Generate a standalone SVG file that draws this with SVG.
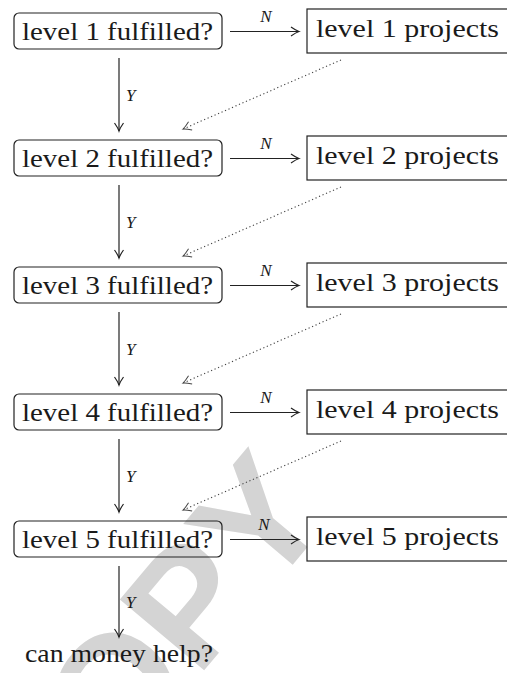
<svg xmlns="http://www.w3.org/2000/svg" width="507" height="673" viewBox="0 0 507 673">
<style>
.bg{fill:#ffffff}
.wm{font-weight:bold;font-size:160px;fill:#d4d4d4}
.q{fill:none;stroke:#222;stroke-width:1.2}
.p{fill:none;stroke:#222;stroke-width:1.2}
.t{font-size:25px;fill:#1a1a1a}
.lab{font-style:italic;font-size:17px;fill:#1a1a1a}
.ar{stroke:#222;stroke-width:1.2;fill:none}
.dot{stroke:#444;stroke-width:1.1;fill:none;stroke-dasharray:1.2 2.6}
</style>
<defs>
<marker id="arr" viewBox="-10 -6 12 12" refX="0" refY="0" markerWidth="12" markerHeight="12" markerUnits="userSpaceOnUse" orient="auto">
<path d="M-8,-4.5 Q-3,-1 0,0 Q-3,1 -8,4.5" fill="none" stroke="#222" stroke-width="1.2"/>
</marker>
<marker id="arrd" viewBox="-10 -6 12 12" refX="0" refY="0" markerWidth="12" markerHeight="12" markerUnits="userSpaceOnUse" orient="auto">
<path d="M-8,-4.5 Q-3,-1 0,0 Q-3,1 -8,4.5" fill="none" stroke="#444" stroke-width="1"/>
</marker>
</defs>
<rect class="bg" x="0" y="0" width="507" height="673"/>
<g id="watermark">
<text class="wm" transform="translate(145,652) rotate(-50)" x="0" y="57" text-anchor="middle" font-family="Liberation Sans, sans-serif">COPY</text>
</g>
<g id="connectors" font-family="Liberation Serif">
<line class="ar" x1="230" y1="31.5" x2="299" y2="31.5" marker-end="url(#arr)"/>
<line class="ar" x1="230" y1="158.5" x2="299" y2="158.5" marker-end="url(#arr)"/>
<line class="ar" x1="230" y1="285.5" x2="299" y2="285.5" marker-end="url(#arr)"/>
<line class="ar" x1="230" y1="412.5" x2="299" y2="412.5" marker-end="url(#arr)"/>
<line class="ar" x1="230" y1="539.5" x2="299" y2="539.5" marker-end="url(#arr)"/>
<text class="lab" x="266" y="22" text-anchor="middle">N</text>
<text class="lab" x="266" y="149" text-anchor="middle">N</text>
<text class="lab" x="266" y="276" text-anchor="middle">N</text>
<text class="lab" x="266" y="403" text-anchor="middle">N</text>
<text class="lab" x="264" y="530" text-anchor="middle">N</text>
<line class="ar" x1="119" y1="58" x2="119" y2="131" marker-end="url(#arr)"/>
<line class="ar" x1="119" y1="185" x2="119" y2="258" marker-end="url(#arr)"/>
<line class="ar" x1="119" y1="312" x2="119" y2="385" marker-end="url(#arr)"/>
<line class="ar" x1="119" y1="439" x2="119" y2="512" marker-end="url(#arr)"/>
<line class="ar" x1="119" y1="566" x2="119" y2="637" marker-end="url(#arr)"/>
<text class="lab" x="126" y="101">Y</text>
<text class="lab" x="126" y="228">Y</text>
<text class="lab" x="126" y="355">Y</text>
<text class="lab" x="126" y="482">Y</text>
<text class="lab" x="126" y="608">Y</text>
<line class="dot" x1="341" y1="60" x2="183" y2="129" marker-end="url(#arrd)"/>
<line class="dot" x1="341" y1="187" x2="183" y2="256" marker-end="url(#arrd)"/>
<line class="dot" x1="341" y1="314" x2="183" y2="383" marker-end="url(#arrd)"/>
<line class="dot" x1="341" y1="441" x2="183" y2="510" marker-end="url(#arrd)"/>
</g>
<g font-family="Liberation Serif">
<g id="q1"><rect class="q" x="14" y="13" width="208" height="36" rx="5"/><text class="t" x="22" y="39.5" textLength="191" lengthAdjust="spacingAndGlyphs">level 1 fulfilled?</text></g>
<g id="p1"><rect class="p" x="307" y="9" width="202" height="44"/><text class="t" x="316" y="37" textLength="183" lengthAdjust="spacingAndGlyphs">level 1 projects</text></g>
<g id="q2"><rect class="q" x="14" y="140" width="208" height="36" rx="5"/><text class="t" x="22" y="166.5" textLength="191" lengthAdjust="spacingAndGlyphs">level 2 fulfilled?</text></g>
<g id="p2"><rect class="p" x="307" y="136" width="202" height="44"/><text class="t" x="316" y="164" textLength="183" lengthAdjust="spacingAndGlyphs">level 2 projects</text></g>
<g id="q3"><rect class="q" x="14" y="267" width="208" height="36" rx="5"/><text class="t" x="22" y="293.5" textLength="191" lengthAdjust="spacingAndGlyphs">level 3 fulfilled?</text></g>
<g id="p3"><rect class="p" x="307" y="263" width="202" height="44"/><text class="t" x="316" y="291" textLength="183" lengthAdjust="spacingAndGlyphs">level 3 projects</text></g>
<g id="q4"><rect class="q" x="14" y="394" width="208" height="36" rx="5"/><text class="t" x="22" y="420.5" textLength="191" lengthAdjust="spacingAndGlyphs">level 4 fulfilled?</text></g>
<g id="p4"><rect class="p" x="307" y="390" width="202" height="44"/><text class="t" x="316" y="418" textLength="183" lengthAdjust="spacingAndGlyphs">level 4 projects</text></g>
<g id="q5"><rect class="q" x="14" y="521" width="208" height="36" rx="5"/><text class="t" x="22" y="547.5" textLength="191" lengthAdjust="spacingAndGlyphs">level 5 fulfilled?</text></g>
<g id="p5"><rect class="p" x="307" y="517" width="202" height="44"/><text class="t" x="316" y="545" textLength="183" lengthAdjust="spacingAndGlyphs">level 5 projects</text></g>
<g id="end"><text class="t" x="119" y="662" text-anchor="middle" textLength="188" lengthAdjust="spacingAndGlyphs">can money help?</text></g>
</g>
</svg>
